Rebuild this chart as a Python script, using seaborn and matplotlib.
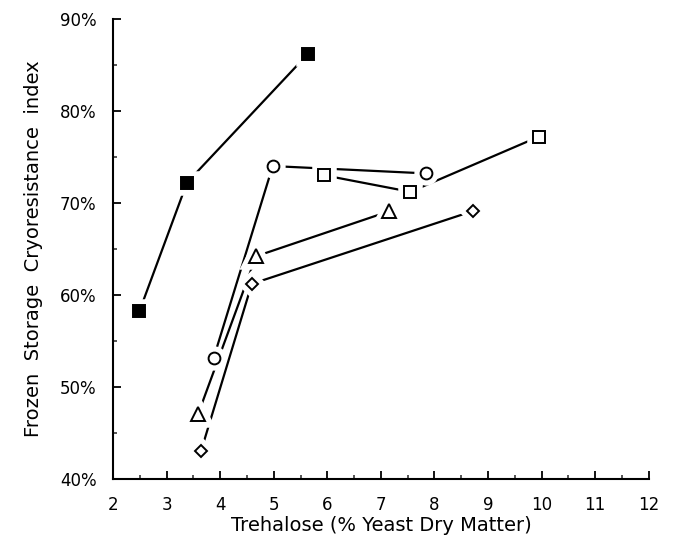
import matplotlib
matplotlib.use("Agg")
import matplotlib.pyplot as plt
from matplotlib.ticker import MultipleLocator, FuncFormatter
import pandas as pd
import seaborn as sns

# ── Data ──────────────────────────────────────────────────────────────────────

filled_sq_x = [2.49, 3.38, 5.64]
filled_sq_y = [58.2, 72.2, 86.2]

circle_x = [3.88, 4.98, 7.85]
circle_y = [53.2, 74.0, 73.2]

open_sq_x = [5.94, 7.55, 9.95]
open_sq_y = [73.0, 71.2, 77.2]

triangle_x = [3.59, 4.67, 7.16]
triangle_y = [47.1, 64.2, 69.1]

diamond_x = [3.64, 4.59, 8.71]
diamond_y = [43.0, 61.2, 69.1]

series = {
    "filled_sq": (filled_sq_x, filled_sq_y),
    "circle":    (circle_x, circle_y),
    "open_sq":   (open_sq_x, open_sq_y),
    "triangle":  (triangle_x, triangle_y),
    "diamond":   (diamond_x, diamond_y),
}

# marker, size, face colour
marker_style = {
    "filled_sq": ("s", 8.5, "black"),
    "circle":    ("o", 8.5, "white"),
    "open_sq":   ("s", 8.5, "white"),
    "triangle":  ("^", 10.5, "white"),
    "diamond":   ("D", 6.5, "white"),
}

df = pd.concat(
    [pd.DataFrame({"x": xs, "y": ys, "series": name}) for name, (xs, ys) in series.items()],
    ignore_index=True,
)

# ── Plot ──────────────────────────────────────────────────────────────────────

sns.set_style("ticks")
plt.rcParams["font.family"] = ["DejaVu Sans"]
plt.rcParams["text.color"] = "black"
plt.rcParams["axes.labelcolor"] = "black"

fig = plt.figure(figsize=(6.73, 5.37), dpi=100)
ax = fig.add_axes([0.168, 0.108, 0.796, 0.857])

sns.lineplot(
    data=df, x="x", y="y", hue="series", units="series", estimator=None,
    sort=False, palette=["black"] * len(series), linewidth=1.6,
    legend=False, ax=ax,
)

# white halos first, so the lines stop short of each marker
for name, (xs, ys) in series.items():
    mk, ms, _ = marker_style[name]
    ax.plot(xs, ys, linestyle="none", marker=mk, markersize=ms,
            markerfacecolor="white", markeredgecolor="white", markeredgewidth=9,
            zorder=4, clip_on=False)

for name, (xs, ys) in series.items():
    mk, ms, fc = marker_style[name]
    ax.plot(xs, ys, linestyle="none", marker=mk, markersize=ms,
            markerfacecolor=fc, markeredgecolor="black", markeredgewidth=1.4,
            zorder=5, clip_on=False)

ax.set_xlim(2, 12)
ax.set_ylim(40, 90)
ax.xaxis.set_major_locator(MultipleLocator(1))
ax.xaxis.set_minor_locator(MultipleLocator(0.5))
ax.yaxis.set_major_locator(MultipleLocator(10))
ax.yaxis.set_minor_locator(MultipleLocator(5))
ax.yaxis.set_major_formatter(FuncFormatter(lambda v, _: f"{v:.0f}%"))

ax.tick_params(which="major", direction="in", length=6, width=1.3,
               labelsize=12, pad=12, colors="black")
ax.tick_params(which="minor", direction="in", length=3, width=1.1)

for side in ("left", "bottom"):
    ax.spines[side].set_linewidth(1.5)
    ax.spines[side].set_color("black")
sns.despine(ax=ax)

ax.set_xlabel("Trehalose (% Yeast Dry Matter)", fontsize=14, labelpad=2)
ax.set_ylabel("Frozen  Storage  Cryoresistance  index", fontsize=14, labelpad=12)

fig.savefig("out.png", dpi=100)
